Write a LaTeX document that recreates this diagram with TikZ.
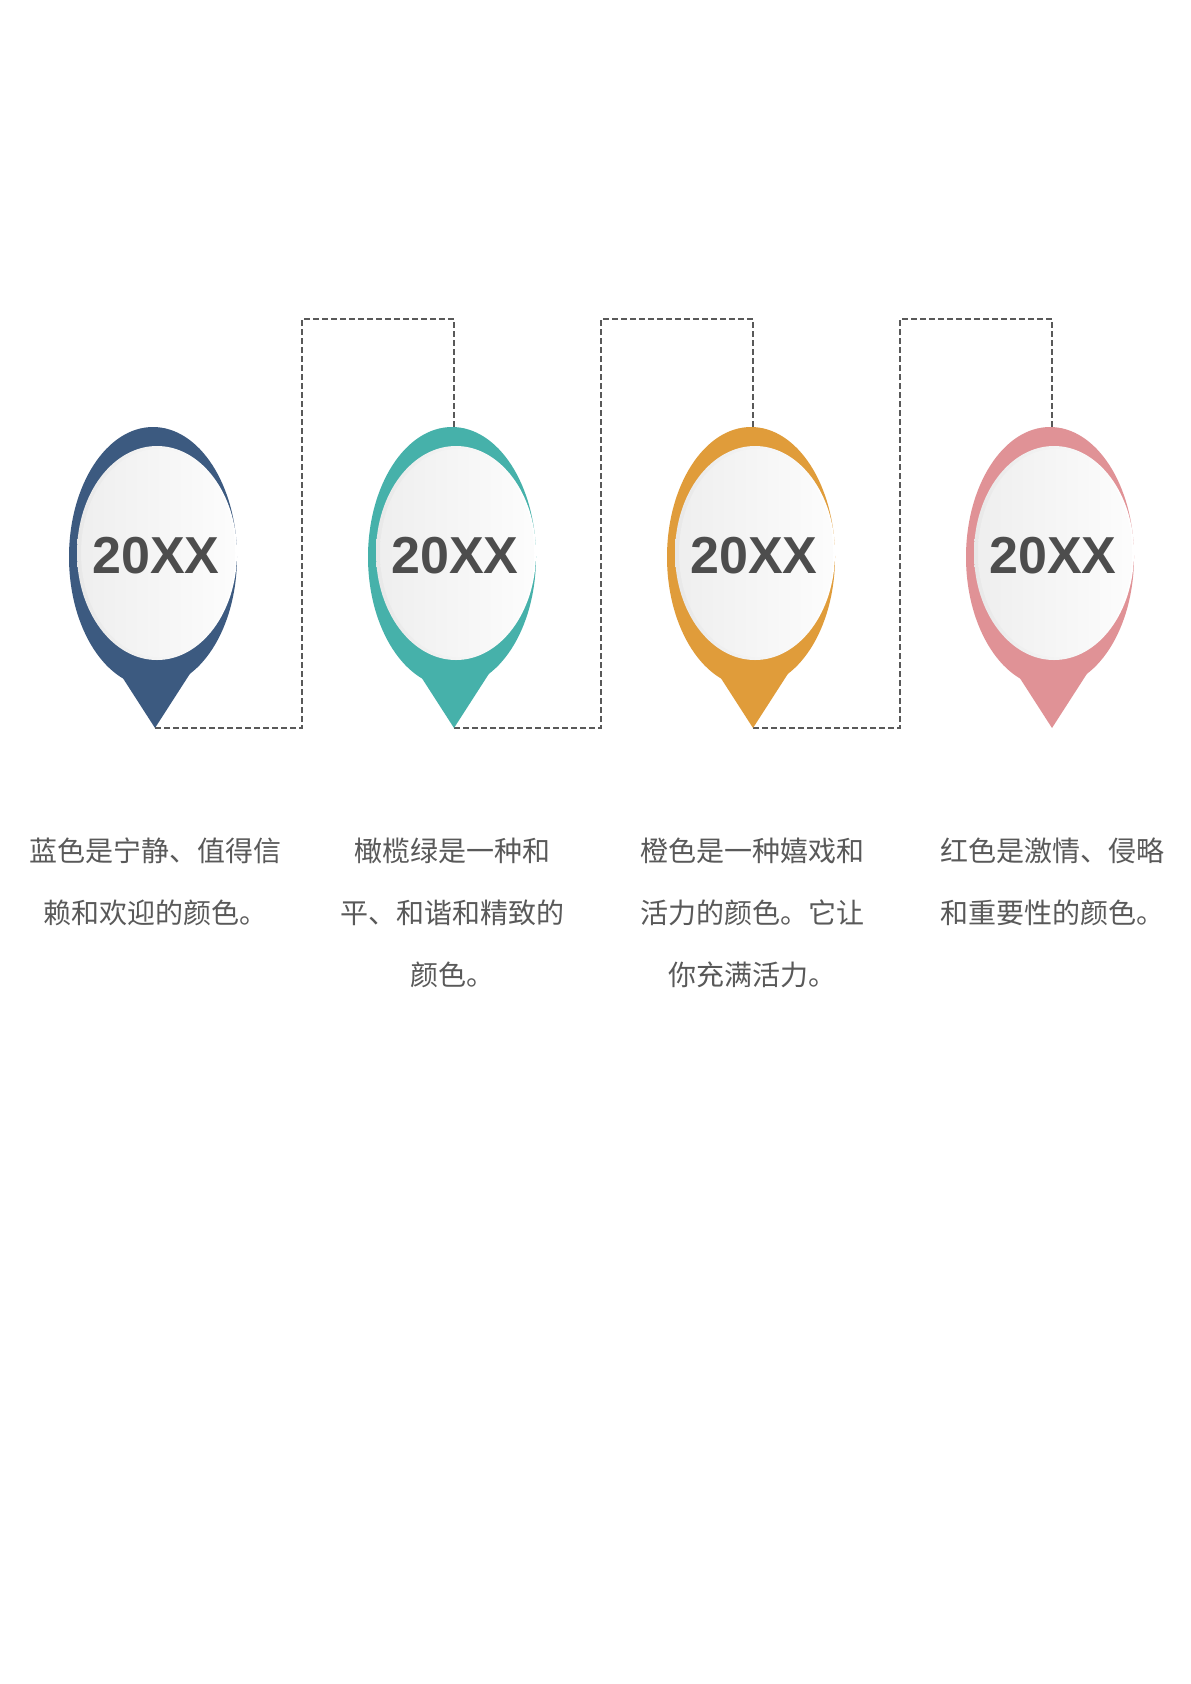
\documentclass[tikz,border=0pt]{standalone}
\usepackage{fontspec}
\newfontfamily\cjk{Noto Sans CJK SC}
\newfontfamily\numfont{Liberation Sans}
\definecolor{pinA}{HTML}{3C5A80}
\definecolor{pinB}{HTML}{46B1AA}
\definecolor{pinC}{HTML}{E09C3A}
\definecolor{pinD}{HTML}{E09296}
\definecolor{dashgray}{HTML}{595959}
\definecolor{yeargray}{HTML}{4D4D4D}
\definecolor{capgray}{HTML}{595959}
\tikzset{
  dashline/.style={draw=dashgray, line width=1.8pt, dash pattern=on 6pt off 3pt},
  yeartext/.style={font=\numfont\bfseries\fontsize{52}{52}\selectfont, text=yeargray, inner sep=0pt, anchor=base},
  captext/.style={font=\cjk\fontsize{28}{62}\selectfont, text=capgray, align=center, inner sep=0pt, anchor=north},
}
\begin{document}
\begin{tikzpicture}[x=1pt,y=-1pt]
\path[use as bounding box, fill=white] (0,0) rectangle (1191,1684);
% anchor points
\foreach \i/\x in {1/155,2/454,3/753,4/1052}{
  \coordinate (top\i) at (\x,427);
  \coordinate (tip\i) at (\x,728);
}
\coordinate (c1) at (302,319);
\coordinate (c2) at (601,319);
\coordinate (c3) at (900,319);
% dashed connectors
\draw[dashline] (tip1) -| (c1) -| (top2);
\draw[dashline] (tip2) -| (c2) -| (top3);
\draw[dashline] (tip3) -| (c3) -| (top4);
% pins
\foreach \i/\x/\c in {1/155/pinA,2/454/pinB,3/753/pinC,4/1052/pinD}{
  \fill[\c] (\x-2,557) ellipse [x radius=84, y radius=130];
  \fill[\c] (\x,728) -- (\x-47,655) -- (\x+47,655) -- cycle;
  \shade[left color=gray!18, right color=white] (\x+2,553) ellipse [x radius=80, y radius=107];
  \shade[left color=gray!13, right color=gray!2] (\x+3,553) ellipse [x radius=77, y radius=104];
  \node[yeartext] (y\i) at (\x+1,573) {20XX};
}
% captions
\node[captext] (t1) at (155,838) {蓝色是宁静、值得信\\赖和欢迎的颜色。};
\node[captext] (t2) at (452,838) {橄榄绿是一种和\\平、和谐和精致的\\颜色。};
\node[captext] (t3) at (752,838) {橙色是一种嬉戏和\\活力的颜色。它让\\你充满活力。};
\node[captext] (t4) at (1052,838) {红色是激情、侵略\\和重要性的颜色。};
\end{tikzpicture}
\end{document}
